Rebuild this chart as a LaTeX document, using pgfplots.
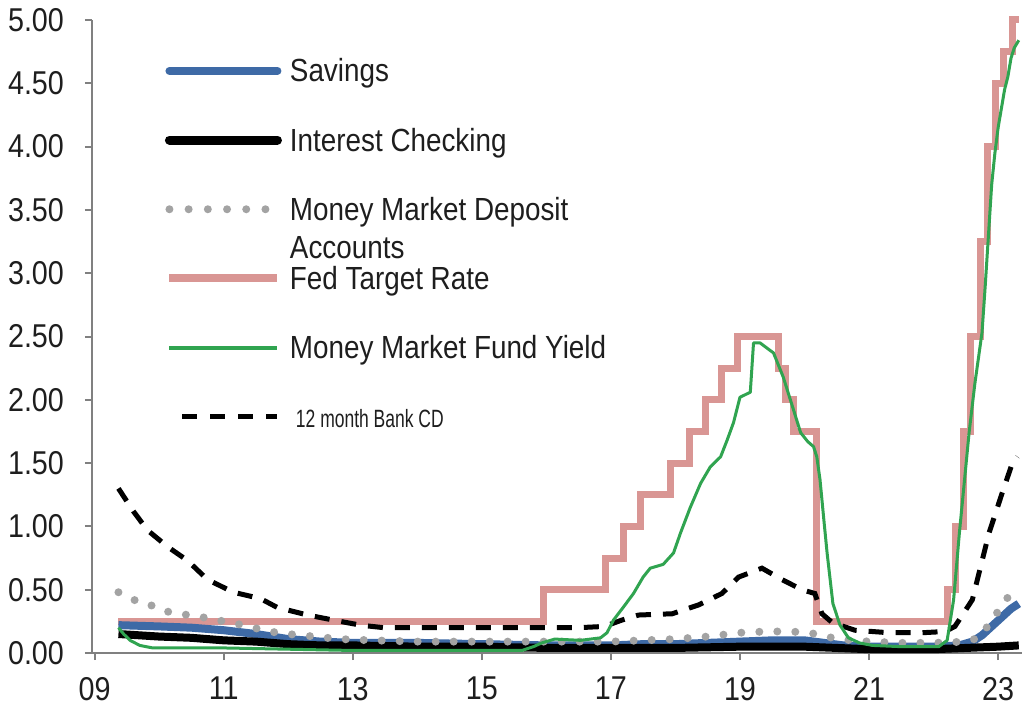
\documentclass[border=0pt]{standalone}
\usepackage{fontspec}
\setmainfont{Liberation Sans}[FakeStretch=0.87]
\newfontfamily\cdfont{Liberation Sans}[FakeStretch=0.70]
\usepackage{pgfplots}
\pgfplotsset{compat=1.18}
\definecolor{savblue}{RGB}{62,106,166}
\definecolor{fedpink}{RGB}{217,150,148}
\definecolor{mmfgreen}{RGB}{48,164,80}
\definecolor{mmgray}{RGB}{163,163,163}
\definecolor{axgray}{RGB}{128,128,128}
\definecolor{txt}{RGB}{30,30,30}

\pgfplotstableread{
x y
9.37 0.22
10.0 0.21
10.5 0.20
11.0 0.18
11.5 0.15
12.0 0.11
12.5 0.09
13.0 0.08
14.0 0.08
15.0 0.07
16.0 0.06
17.0 0.06
17.5 0.07
18.0 0.07
18.5 0.08
19.0 0.09
19.5 0.10
20.0 0.10
20.3 0.08
20.6 0.06
21.0 0.05
21.5 0.05
22.0 0.05
22.4 0.06
22.6 0.09
22.75 0.14
22.9 0.21
23.05 0.28
23.2 0.35
23.32 0.39
}\savings

\pgfplotstableread{
x y
9.37 0.15
10.0 0.13
10.5 0.12
11.0 0.10
11.5 0.09
12.0 0.07
12.5 0.06
13.0 0.06
14.0 0.05
15.0 0.05
16.0 0.04
17.0 0.04
18.0 0.04
19.0 0.05
20.0 0.05
20.5 0.04
21.0 0.03
22.0 0.03
22.5 0.04
23.0 0.05
23.32 0.06
}\checking

\pgfplotstableread{
x y
9.37 0.48
9.6 0.42
9.8 0.40
10.0 0.34
10.3 0.31
10.6 0.29
10.9 0.26
11.3 0.22
11.7 0.17
12.0 0.15
12.4 0.13
12.8 0.11
13.3 0.10
14.0 0.09
15.0 0.09
16.0 0.09
17.0 0.09
17.5 0.10
18.0 0.11
18.5 0.13
19.0 0.16
19.4 0.17
19.8 0.17
20.2 0.15
20.5 0.11
21.0 0.09
21.5 0.08
22.0 0.08
22.5 0.09
22.7 0.12
22.85 0.22
23.0 0.33
23.1 0.40
23.2 0.48
23.25 0.52
}\mmda

\pgfplotstableread{
x y
9.37 0.25
15.96 0.50
16.92 0.75
17.19 1.00
17.46 1.25
17.93 1.50
18.22 1.75
18.46 2.00
18.72 2.25
18.96 2.50
19.59 2.25
19.71 2.00
19.83 1.75
20.19 0.25
22.21 0.50
22.34 1.00
22.46 1.75
22.57 2.50
22.73 3.25
22.84 4.00
22.96 4.50
23.09 4.75
23.22 5.00
23.32 5.00
}\fed

\pgfplotstableread{
x y
9.37 0.20
9.45 0.15
9.55 0.10
9.7 0.06
9.9 0.04
10.5 0.04
11.0 0.04
12.0 0.03
13.0 0.02
14.0 0.02
15.0 0.02
15.62 0.02
15.80 0.05
15.93 0.08
16.13 0.11
16.53 0.10
16.84 0.12
16.94 0.16
17.04 0.26
17.19 0.36
17.35 0.47
17.50 0.60
17.61 0.67
17.81 0.70
17.97 0.79
18.08 0.95
18.23 1.15
18.39 1.34
18.54 1.47
18.70 1.55
18.80 1.68
18.90 1.82
19.00 2.02
19.16 2.06
19.21 2.45
19.31 2.45
19.52 2.37
19.67 2.18
19.83 1.92
19.94 1.74
20.05 1.67
20.14 1.63
20.19 1.55
20.24 1.37
20.30 1.05
20.35 0.79
20.44 0.39
20.55 0.22
20.68 0.12
20.85 0.08
21.05 0.06
21.5 0.05
22.08 0.05
22.21 0.10
22.31 0.42
22.40 0.95
22.55 1.74
22.64 2.13
22.75 2.53
22.80 2.90
22.85 3.30
22.90 3.70
22.95 3.95
23.00 4.15
23.05 4.30
23.10 4.45
23.15 4.55
23.20 4.70
23.25 4.78
23.32 4.84
}\mmf

\pgfplotstableread{
x y
9.37 1.30
9.6 1.12
9.82 0.97
10.13 0.84
10.44 0.73
10.75 0.58
11.15 0.48
11.57 0.43
11.83 0.36
12.3 0.30
12.7 0.26
13.12 0.22
13.48 0.20
14.5 0.20
15.5 0.20
16.5 0.20
16.9 0.21
17.17 0.26
17.43 0.30
17.95 0.31
18.36 0.38
18.72 0.47
18.98 0.60
19.34 0.67
19.65 0.58
19.96 0.50
20.16 0.47
20.27 0.31
20.43 0.24
20.78 0.18
21.31 0.16
21.82 0.16
22.18 0.17
22.33 0.21
22.6 0.42
22.86 0.95
23.06 1.26
23.22 1.50
23.30 1.55
}\cd

\begin{document}
\begin{tikzpicture}
\begin{axis}[
  scale only axis, width=465pt, height=316.5pt,
  xmin=8.96, xmax=23.37, ymin=0, ymax=5,
  axis x line*=bottom, axis y line*=left,
  axis line style={draw=axgray, line width=1pt},
  xtick={9,11,13,15,17,19,21,23},
  xticklabels={09,11,13,15,17,19,21,23},
  ytick={0,0.5,1,1.5,2,2.5,3,3.5,4,4.5,5},
  yticklabel style={/pgf/number format/fixed, /pgf/number format/fixed zerofill, /pgf/number format/precision=2, xshift=-7pt},
  /pgf/number format/assume math mode=true,
  tick align=outside, major tick length=3.5pt,
  tick style={draw=axgray, line width=1pt},
  ticklabel style={font=\fontsize{16.5}{19}\selectfont, text=txt},
  xticklabel style={yshift=-5pt},
  clip=false,
  legend cell align=left,
  legend style={at={(rel axis cs:0.078,0.944)}, anchor=north west, draw=none, fill=none,
    inner sep=0pt, row sep=19.6pt, column sep=4pt,
    font=\fontsize{16}{19}\selectfont, text=txt,
    nodes={inner sep=0pt, text height=13pt, text depth=2pt}},
  legend image code/.code={\draw[#1] (1pt,0pt) -- (55pt,0pt);},
]
\coordinate (O) at (rel axis cs:0,0);
\addplot[forget plot, fedpink, line width=3.5pt, const plot] table {\fed};
\addplot[forget plot, savblue, line width=4pt, line join=round] table {\savings};
\addplot[forget plot, black, line width=4pt, line join=round] table {\checking};
\addplot[forget plot, mmgray, line width=4pt, line cap=round, dash pattern=on 0pt off 9pt] table {\mmda};
\addplot[forget plot, black, line width=2.5pt, dash pattern=on 7.5pt off 6pt] table {\cd};
\addplot[forget plot, mmfgreen, line width=1.5pt, line join=round] table {\mmf};

\addlegendimage{savblue, line width=4pt, line cap=round}
\addlegendentry{Savings}
\addlegendimage{black, line width=4.5pt, line cap=round}
\addlegendentry{Interest Checking}
\addlegendimage{mmgray, line width=4pt, line cap=round, dash pattern=on 0pt off 9.6pt}
\addlegendentry{\begin{tabular}[t]{@{}l@{}}Money Market Deposit\\Accounts\end{tabular}}
\addlegendimage{fedpink, line width=4pt}
\addlegendentry{Fed Target Rate}
\addlegendimage{mmfgreen, line width=2pt}
\addlegendentry{Money Market Fund Yield}
\addlegendimage{black, line width=2.5pt, dash pattern=on 7.5pt off 6.5pt, dash phase=7.5pt}
\addlegendentry{\hspace{3pt}\cdfont\fontsize{12.5}{15}\selectfont 12 month Bank CD}
\end{axis}
\pgfresetboundingbox
\path[use as bounding box] ([shift={(-46pt,-27pt)}]O) rectangle ++(513pt,353.5pt);
\end{tikzpicture}
\end{document}
